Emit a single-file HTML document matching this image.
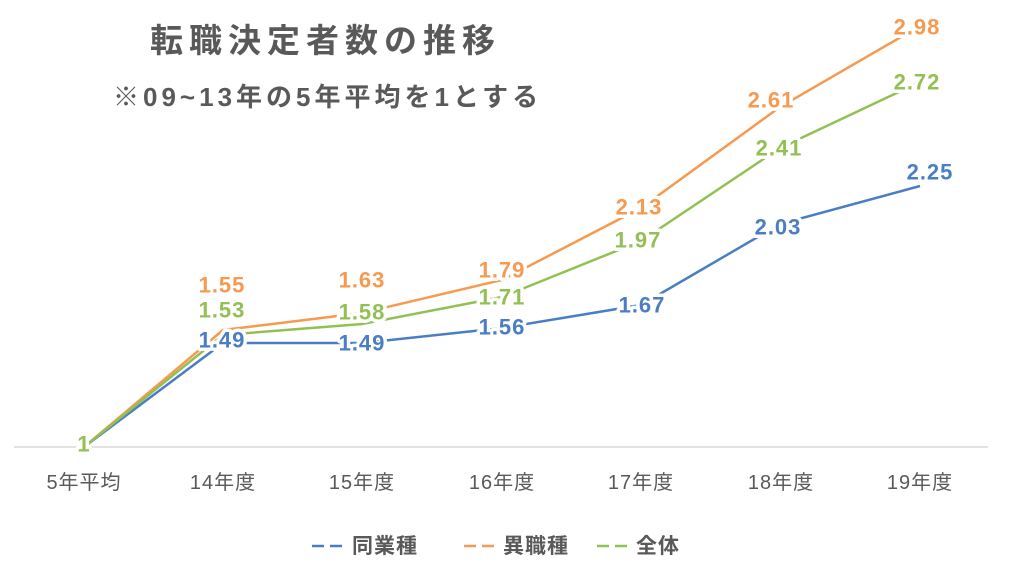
<!DOCTYPE html>
<html><head><meta charset="utf-8"><style>
html,body{margin:0;padding:0;background:#fff;}
svg{display:block;font-family:"Liberation Sans","Noto Sans CJK JP",sans-serif;}
.l{font-size:22px;font-weight:bold;letter-spacing:1px;text-anchor:middle;dominant-baseline:central;stroke:#fff;stroke-width:7px;paint-order:stroke;stroke-linejoin:round;}
.ax{font-size:20px;letter-spacing:1px;fill:#595959;text-anchor:middle;}
</style></head><body>
<svg width="1024" height="564" viewBox="0 0 1024 564">
<rect width="1024" height="564" fill="#fff"/>
<text x="150" y="52" font-size="33" letter-spacing="6" font-weight="bold" fill="#595959">転職決定者数の推移</text>
<text x="113" y="106" font-size="26" letter-spacing="4" font-weight="bold" fill="#595959">※09~13年の5年平均を1とする</text>
<line x1="14" y1="447" x2="988" y2="447" stroke="#d9d9d9" stroke-width="1.5"/>
<g fill="none" stroke-width="2.5">
<polyline stroke="#4a7ec4" points="84,447 223,343 362,343 502,328 641,305 780,224 920,186"/>
<polyline stroke="#f59a4f" points="84,447 223,330 362,313 502,280 641,208 780,107 920,26"/>
<polyline stroke="#93c055" points="84,447 223,335 362,324 502,297 641,241 780,148 920,82"/>
</g>
<g class="l" fill="#f59a4f">
<text x="222" y="285">1.55</text><text x="362" y="280">1.63</text><text x="502" y="270">1.79</text><text x="639" y="207">2.13</text><text x="771" y="100">2.61</text><text x="917" y="27">2.98</text>
</g>
<g class="l" fill="#93c055">
<text x="222" y="310">1.53</text><text x="362" y="312">1.58</text><text x="502" y="297">1.71</text><text x="638" y="240">1.97</text><text x="779" y="148">2.41</text><text x="917" y="82">2.72</text>
<text x="84" y="444">1</text>
</g>
<g class="l" fill="#4a7ec4">
<text x="222" y="340">1.49</text><text x="362" y="343">1.49</text><text x="502" y="327">1.56</text><text x="642" y="305">1.67</text><text x="778" y="227">2.03</text><text x="930" y="172">2.25</text>
</g>
<g class="ax">
<text x="84" y="489">5年平均</text><text x="223" y="489">14年度</text><text x="362" y="489">15年度</text><text x="502" y="489">16年度</text><text x="641" y="489">17年度</text><text x="781" y="489">18年度</text><text x="920" y="489">19年度</text>
</g>
<g stroke-width="2.5" stroke-dasharray="12,6">
<line x1="312" y1="546" x2="346" y2="546" stroke="#4a7ec4"/>
<line x1="464" y1="546" x2="498" y2="546" stroke="#f59a4f"/>
<line x1="597" y1="546" x2="631" y2="546" stroke="#93c055"/>
</g>
<g font-size="21" font-weight="bold" letter-spacing="1" fill="#595959">
<text x="352" y="553">同業種</text><text x="503" y="553">異職種</text><text x="636" y="553">全体</text>
</g>
</svg>
</body></html>
